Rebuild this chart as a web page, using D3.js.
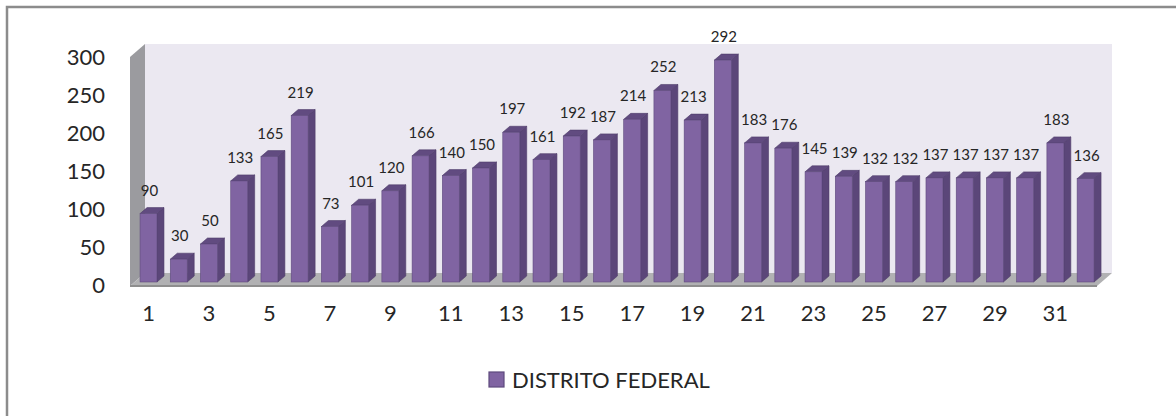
<!DOCTYPE html>
<html lang="en">
<head>
<meta charset="UTF-8">
<title>Distrito Federal</title>
<script src="https://cdnjs.cloudflare.com/ajax/libs/d3/7.8.5/d3.min.js"></script>
<style>
    body { margin: 0; background: #fff; font-family: Lato, "Liberation Sans", sans-serif; }
    svg text { fill: #262626; }
</style>
</head>
<body>
<div id="chart"></div>
<script>
    // chart data
    var days = d3.range(1, 33);
    var values = [90, 30, 50, 133, 165, 219, 73, 101, 120, 166, 140, 150, 197, 161, 192, 187,
                  214, 252, 213, 292, 183, 176, 145, 139, 132, 132, 137, 137, 137, 137, 183, 136];
    var yTicks = [0, 50, 100, 150, 200, 250, 300];
    var xTicks = days.filter(function (d) { return d % 2 === 1; });
    var seriesName = "DISTRITO FEDERAL";

    var W = 1176, H = 416;
    var svg = d3.select("#chart").append("svg")
        .attr("width", W).attr("height", H);

    // frame (only left/top visible in the crop)
    svg.append("path")
        .attr("d", "M7,416 V7 H1176")
        .attr("fill", "none")
        .attr("stroke", "#8c8c8c")
        .attr("stroke-width", 2.5);

    // 3d walls
    var wallDx = 15, wallDy = -13;
    var front0 = 130, front1 = 1097, floorY = 286, wallTop = 57;

    svg.append("rect")
        .attr("x", front0 + wallDx).attr("y", wallTop + wallDy)
        .attr("width", front1 - front0).attr("height", floorY - wallTop)
        .attr("fill", "#ebe8f1");

    svg.append("polygon")
        .attr("points", [[front0, wallTop], [front0 + wallDx, wallTop + wallDy],
                         [front0 + wallDx, floorY + wallDy], [front0, floorY]].join(" "))
        .attr("fill", "#9b9b9f");

    svg.append("polygon")
        .attr("points", [[front0, floorY], [front0 + wallDx, floorY + wallDy],
                         [front1 + wallDx, floorY + wallDy], [front1, floorY]].join(" "))
        .attr("fill", "#b1b1b3");
    svg.append("line")
        .attr("x1", front0).attr("x2", front1)
        .attr("y1", floorY).attr("y2", floorY)
        .attr("stroke", "#8e8e8e").attr("stroke-width", 2);

    // scales
    var x = d3.scaleBand()
        .domain(days)
        .range([133.4, 1100.7])
        .paddingInner(0.44)
        .paddingOuter(0.22);

    var yBar = d3.scaleLinear().domain([0, 300]).range([282, 54]);
    var yAxisScale = d3.scaleLinear().domain([0, 300]).range([285, 57]);

    // bars
    var dx = 7, dy = -6;
    var bars = svg.append("g").selectAll("g")
        .data(values)
        .enter().append("g");

    bars.append("polygon") // side
        .attr("points", function (d, i) {
            var x1 = x(days[i]) + x.bandwidth(), t = yBar(d), b = yBar(0);
            return [[x1, t], [x1 + dx, t + dy], [x1 + dx, b + dy], [x1, b]].join(" ");
        })
        .attr("fill", "#5b4679")
        .attr("stroke", "#4f3d6a").attr("stroke-width", 0.6);

    bars.append("polygon") // top
        .attr("points", function (d, i) {
            var x0 = x(days[i]), x1 = x0 + x.bandwidth(), t = yBar(d);
            return [[x0, t], [x0 + dx, t + dy], [x1 + dx, t + dy], [x1, t]].join(" ");
        })
        .attr("fill", "#614b80")
        .attr("stroke", "#4f3d6a").attr("stroke-width", 0.6);

    bars.append("rect") // front
        .attr("x", function (d, i) { return x(days[i]); })
        .attr("y", function (d) { return yBar(d); })
        .attr("width", x.bandwidth())
        .attr("height", function (d) { return yBar(0) - yBar(d); })
        .attr("fill", "#8064a2")
        .attr("stroke", "#5e4a7d").attr("stroke-width", 0.6);

    // value labels
    svg.append("g").selectAll("text")
        .data(values)
        .enter().append("text")
        .attr("x", function (d, i) { return x(days[i]) + x.bandwidth() / 2 + 1; })
        .attr("y", function (d) { return yBar(d) - 18; })
        .attr("text-anchor", "middle")
        .style("font-size", "15px")
        .text(function (d) { return d; });

    // axes
    var yAxis = svg.append("g")
        .attr("transform", "translate(105,0)")
        .call(d3.axisLeft(yAxisScale).tickValues(yTicks).tickSize(0).tickPadding(0));
    yAxis.select(".domain").remove();
    yAxis.selectAll("text").style("font-size", "22px").style("font-family", "Lato, sans-serif");

    var xAxis = svg.append("g")
        .attr("transform", "translate(0,305)")
        .call(d3.axisBottom(x).tickValues(xTicks).tickSize(0).tickPadding(0));
    xAxis.select(".domain").remove();
    xAxis.selectAll("text").style("font-size", "22px").style("font-family", "Lato, sans-serif");

    // legend
    var legend = svg.append("g").attr("transform", "translate(489,372)");
    legend.append("rect")
        .attr("width", 15).attr("height", 15)
        .attr("fill", "#8064a2")
        .attr("stroke", "#5e4a7d").attr("stroke-width", 1.2);
    legend.append("text")
        .attr("x", 23).attr("y", 8)
        .attr("dy", "0.36em")
        .style("font-size", "22px")
        .text(seriesName);
</script>
</body>
</html>
